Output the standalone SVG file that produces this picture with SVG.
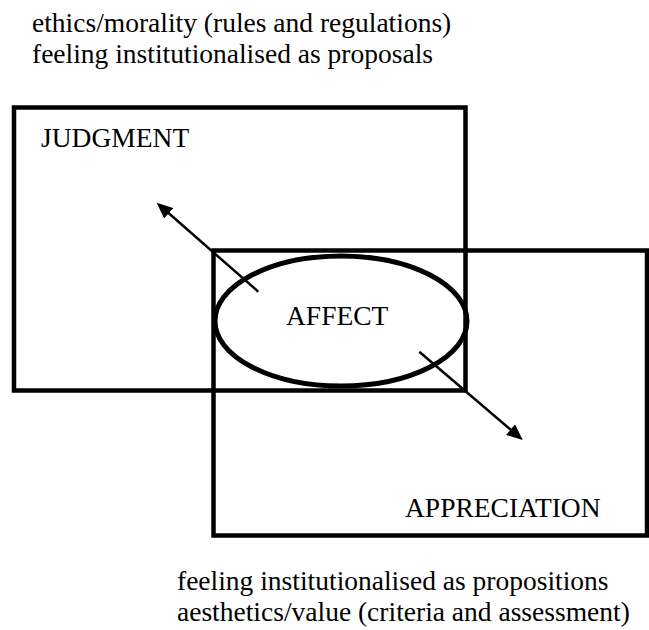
<svg xmlns="http://www.w3.org/2000/svg" width="649" height="630" viewBox="0 0 649 630">
  <style>
    .box { fill: none; stroke: #000; stroke-width: 4.5; }
    .oval { fill: none; stroke: #000; stroke-width: 5; }
    .conn { stroke: #000; stroke-width: 2.5; fill: none; }
    text { font-family: "Liberation Serif", "Times New Roman", serif; font-size: 27.5px; fill: #000; }
  </style>
  <defs>
    <marker id="arrow" markerUnits="userSpaceOnUse" markerWidth="17" markerHeight="14" refX="6" refY="7" orient="auto">
      <path d="M0,0 L16,7 L0,14 z" fill="#000"/>
    </marker>
  </defs>

  <g id="captions">
    <text x="32" y="32">ethics/morality (rules and regulations)</text>
    <text x="32" y="63">feeling institutionalised as proposals</text>
    <text x="177" y="590">feeling institutionalised as propositions</text>
    <text x="177" y="621">aesthetics/value (criteria and assessment)</text>
  </g>

  <g id="judgment">
    <rect class="box" x="14" y="107.5" width="451.5" height="283"/>
    <text x="41" y="147">JUDGMENT</text>
  </g>

  <g id="appreciation">
    <rect class="box" x="213.5" y="250.5" width="433.5" height="285"/>
    <text x="405" y="517">APPRECIATION</text>
  </g>

  <g id="affect">
    <ellipse class="oval" cx="341" cy="321" rx="126" ry="65"/>
    <text x="286" y="325">AFFECT</text>
  </g>

  <g id="connectors">
    <line class="conn" x1="258.3" y1="291.7" x2="164.2" y2="209.3" marker-end="url(#arrow)"/>
    <line class="conn" x1="419.3" y1="351.7" x2="515.1" y2="433.5" marker-end="url(#arrow)"/>
  </g>
</svg>
